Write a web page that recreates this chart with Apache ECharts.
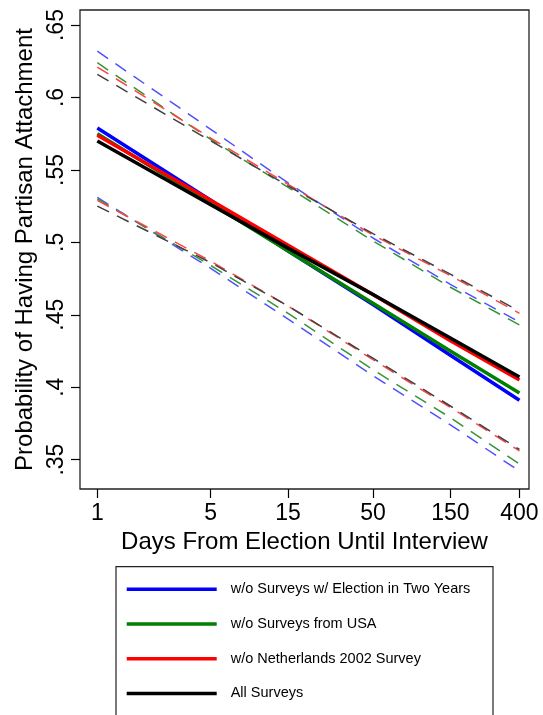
<!DOCTYPE html>
<html>
<head>
<meta charset="utf-8">
<script src="https://cdn.jsdelivr.net/npm/echarts@6/dist/echarts.min.js"></script>
<style>
html,body{margin:0;padding:0;background:#fff;}
#c{width:543px;height:715px;}
</style>
</head>
<body>
<div id="c"></div>
<script>
const days = [1, 5, 15, 50, 150, 400];
const xTicks = [1, 5, 15, 50, 150, 400];
const yTicks = [0.35, 0.4, 0.45, 0.5, 0.55, 0.6, 0.65];

const seriesNames = ['w/o Surveys w/ Election in Two Years', 'w/o Surveys from USA', 'w/o Netherlands 2002 Survey', 'All Surveys'];

const blueEst   = [0.579, 0.529, 0.494, 0.457, 0.422, 0.391];
const blueUpper = [0.632, 0.578, 0.541, 0.503, 0.471, 0.445];
const blueLower = [0.531, 0.482, 0.447, 0.408, 0.374, 0.342];

const greenEst   = [0.575, 0.527, 0.494, 0.458, 0.425, 0.396];
const greenUpper = [0.624, 0.571, 0.538, 0.501, 0.469, 0.443];
const greenLower = [0.530, 0.484, 0.451, 0.412, 0.379, 0.347];

const redEst   = [0.574, 0.529, 0.498, 0.464, 0.432, 0.405];
const redUpper = [0.621, 0.572, 0.540, 0.505, 0.477, 0.451];
const redLower = [0.529, 0.487, 0.456, 0.419, 0.386, 0.356];

const blackEst   = [0.570, 0.526, 0.496, 0.464, 0.434, 0.407];
const blackUpper = [0.616, 0.570, 0.539, 0.506, 0.478, 0.4525];
const blackLower = [0.525, 0.486, 0.456, 0.420, 0.387, 0.357];

const FONT = '"Liberation Sans", Arial, Helvetica, sans-serif';
const solidColors = ['#0000ff', '#008000', '#ff0000', '#000000'];
const dashColors = ['#5050ff', '#359535', '#ff4444', '#404040'];

const groups = [
  [blueEst, blueUpper, blueLower],
  [greenEst, greenUpper, greenLower],
  [redEst, redUpper, redLower],
  [blackEst, blackUpper, blackLower]
];

function pairs(arr) { return days.map((d, i) => [d, arr[i]]); }

const series = [];
groups.forEach((g, k) => {
  [g[1], g[2]].forEach((arr, j) => {
    series.push({
      name: 'ci' + k + '_' + j,
      type: 'line',
      data: pairs(arr),
      symbol: 'none',
      silent: true,
      z: 2,
      lineStyle: { color: dashColors[k], width: 1.5, type: [13, 9] }
    });
  });
});
groups.forEach((g, k) => {
  series.push({
    name: seriesNames[k],
    type: 'line',
    data: pairs(g[0]),
    symbol: 'none',
    showSymbol: false,
    z: 3 + k,
    itemStyle: { color: solidColors[k] },
    lineStyle: { color: solidColors[k], width: 3.5 }
  });
});

const chart = echarts.init(document.getElementById('c'), null, { renderer: 'canvas' });
chart.setOption({
  animation: false,
  backgroundColor: '#ffffff',
  grid: {
    left: 80, top: 10, width: 449, height: 479,
    show: true, borderColor: '#222', borderWidth: 1.3, backgroundColor: '#fff'
  },
  xAxis: {
    type: 'log',
    logBase: 10,
    min: 0.782,
    max: 458,
    name: 'Days From Election Until Interview',
    nameLocation: 'middle',
    nameGap: 38,
    nameTextStyle: { fontFamily: FONT, fontSize: 24, color: '#000' },
    axisLine: { show: false },
    splitLine: { show: false },
    minorTick: { show: false },
    axisTick: { show: true, length: 9, lineStyle: { color: '#000', width: 1.2 }, customValues: xTicks },
    axisLabel: {
      customValues: xTicks,
      fontFamily: FONT, fontSize: 23, color: '#000', margin: 13,
      formatter: v => String(Math.round(v))
    }
  },
  yAxis: {
    type: 'value',
    min: 0.3297,
    max: 0.6604,
    name: 'Probability of Having Partisan Attachment',
    nameLocation: 'middle',
    nameGap: 40,
    nameRotate: 90,
    nameTextStyle: { fontFamily: FONT, fontSize: 24, color: '#000' },
    axisLine: { show: false },
    splitLine: { show: false },
    axisTick: { show: true, length: 9, lineStyle: { color: '#000', width: 1.2 }, customValues: yTicks },
    axisLabel: {
      customValues: yTicks,
      rotate: 90,
      fontFamily: FONT, fontSize: 23, color: '#000', margin: 12,
      formatter: v => {
        let s = (Math.round(v * 100) / 100).toString();
        return s.replace(/^0/, '');
      }
    }
  },
  legend: {
    data: seriesNames,
    orient: 'vertical',
    left: 126.7,
    top: 580.3,
    padding: 0,
    itemWidth: 90,
    itemHeight: 18,
    itemGap: 16.7,
    icon: 'path://M0,0 L90,0 L90,3.5 L0,3.5 Z',
    textStyle: { fontFamily: FONT, fontSize: 14.5, color: '#000', lineHeight: 18, padding: [0, 0, 0, 9] },
    selectedMode: false
  },
  graphic: [{
    type: 'rect',
    shape: { x: 116, y: 566.7, width: 377, height: 200 },
    style: { fill: 'none', stroke: '#222', lineWidth: 1.2 },
    silent: true,
    z: 100
  }],
  series: series
});
</script>
</body>
</html>
